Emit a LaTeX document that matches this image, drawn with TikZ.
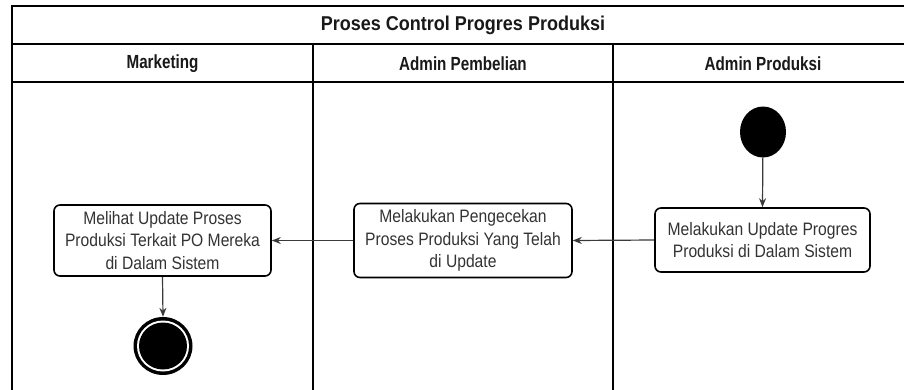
\documentclass[tikz,border=0pt]{standalone}
\usepackage{fontspec}
\setmainfont{Liberation Sans}
\newfontfamily\titlefont[FakeStretch=0.9]{Liberation Sans}
\newfontfamily\narrowfont[FakeStretch=0.8]{Liberation Sans}
\newfontfamily\boxfont[FakeStretch=0.87]{Liberation Sans}
\usetikzlibrary{arrows.meta,shapes.geometric}
\definecolor{ink}{HTML}{333333}
\definecolor{wire}{HTML}{3A3A3A}
\tikzset{
  frameline/.style={line width=1.8pt, black},
  titletext/.style={font=\titlefont\bfseries\fontsize{20}{24}\selectfont, text=black!90},
  lanetext/.style={font=\narrowfont\bfseries\fontsize{19}{22}\selectfont, text=black!90},
  activity/.style={draw=black, line width=1.6pt, rounded corners=6pt, fill=white,
    align=center, text=ink, inner sep=0pt,
    font=\boxfont\fontsize{18}{22.5}\selectfont},
  flow/.style={draw=wire, line width=1.2pt, -{Stealth[length=9pt,width=7pt]}},
  startdot/.style={ellipse, fill=black, draw=none, minimum width=46pt, minimum height=51pt, inner sep=0pt},
}
\begin{document}
\begin{tikzpicture}[x=1pt, y=-1pt]
  \clip (0,0) rectangle (904,389);
  \fill[white] (0,0) rectangle (904,389);

  % swimlane frame
  \draw[frameline] (920,6) -- (12,6) -- (12,400);
  \draw[frameline] (12,44) -- (920,44);
  \draw[frameline] (12,82) -- (920,82);
  \draw[frameline] (313,44) -- (313,400);
  \draw[frameline] (613,44) -- (613,400);

  % titles
  \node[titletext] (title) at (463,25.5) {Proses Control Progres Produksi};
  \node[lanetext] (laneM) at (162.5,63.5) {Marketing};
  \node[lanetext] (laneB) at (463,63.5) {Admin Pembelian};
  \node[lanetext] (laneP) at (763,63.5) {Admin Produksi};

  % start and end
  \node[startdot] (start) at (763,132) {};
  \node[ellipse, fill=black, minimum width=59pt, minimum height=58pt, inner sep=0pt] (finish) at (163,346) {};
  \node[ellipse, fill=white, minimum width=52pt, minimum height=51pt, inner sep=0pt] at (finish.center) {};
  \node[ellipse, fill=black, minimum width=48pt, minimum height=47pt, inner sep=0pt] at (finish.center) {};

  % activities
  \node[activity, minimum width=215pt, minimum height=64pt] (upd) at (762.5,240)
    {Melakukan Update Progres\\Produksi di Dalam Sistem};
  \node[activity, minimum width=218pt, minimum height=74pt] (cek) at (463,240.5)
    {Melakukan Pengecekan\\Proses Produksi Yang Telah\\di Update};
  \node[activity, minimum width=217pt, minimum height=71pt] (lihat) at (162.5,240.5)
    {Melihat Update Proses\\Produksi Terkait PO Mereka\\di Dalam Sistem};

  % control flow
  \draw[flow] (start) -- (upd.north);
  \draw[flow] (upd.west) -- (cek.east);
  \draw[flow] (cek.west) -- (lihat.east);
  \draw[flow] (lihat.south) -- (finish.north);
\end{tikzpicture}
\end{document}
